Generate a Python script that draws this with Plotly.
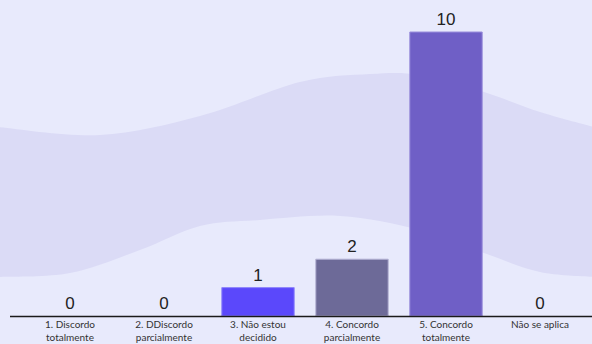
import plotly.graph_objects as go

categories = ["1. Discordo<br>totalmente", "2. DDiscordo<br>parcialmente", "3. Não estou<br>decidido",
              "4. Concordo<br>parcialmente", "5. Concordo<br>totalmente", "Não se aplica"]
values = [0, 0, 1, 2, 10, 0]
bar_colors = ["#5b48fb", "#5b48fb", "#5b48fb", "#6d6a98", "#6f5fc6", "#6f5fc6"]
bar_lines = ["#8f86fb", "#8f86fb", "#8f86fb", "#b4b2d4", "#9a8fdc", "#9a8fdc"]

W, H = 592, 344
ML, MR, MT, MB = 23, 5, 0, 28
PW, PH = W - ML - MR, H - MT - MB

def px(x):
    return (x - ML) / PW

def py(y):
    return (H - MB - y) / PH

def catmull(points):
    segs = []
    n = len(points)
    for i in range(n - 1):
        p0 = points[i - 1] if i > 0 else points[i]
        p1 = points[i]
        p2 = points[i + 1]
        p3 = points[i + 2] if i + 2 < n else points[i + 1]
        c1 = (p1[0] + (p2[0] - p0[0]) / 6, p1[1] + (p2[1] - p0[1]) / 6)
        c2 = (p2[0] - (p3[0] - p1[0]) / 6, p2[1] - (p3[1] - p1[1]) / 6)
        segs.append("C %.4f,%.4f %.4f,%.4f %.4f,%.4f" % (px(c1[0]), py(c1[1]), px(c2[0]), py(c2[1]), px(p2[0]), py(p2[1])))
    return " ".join(segs)

top = [(-2, 127), (100, 135), (200, 116), (300, 82), (370, 74), (420, 75), (484, 92), (540, 112), (594, 127)]
bot = [(594, 277), (540, 272), (484, 253), (420, 230), (340, 216), (260, 220), (200, 226), (140, 250), (70, 273), (-2, 277)]

path = "M %.4f,%.4f " % (px(top[0][0]), py(top[0][1])) + catmull(top)
path += " L %.4f,%.4f " % (px(bot[0][0]), py(bot[0][1])) + catmull(bot) + " Z"

fig = go.Figure()
fig.add_trace(go.Bar(
    x=categories, y=values,
    marker=dict(color=bar_colors,
                line=dict(color=bar_lines, width=[1 if v > 0 else 0 for v in values])),
    text=[str(v) for v in values], textposition="outside",
    textfont=dict(family="Liberation Sans, Arial", size=17, color="#222222"),
    cliponaxis=False, width=0.77,
))

fig.update_layout(
    width=W, height=H,
    margin=dict(l=ML, r=MR, t=MT, b=MB, pad=0),
    paper_bgcolor="#e8eafc", plot_bgcolor="rgba(0,0,0,0)",
    showlegend=False,
    xaxis=dict(showgrid=False, zeroline=False, showline=False, ticks="",
               ticklabelstandoff=1,
               tickfont=dict(family="Lato, Noto Sans", size=10, color="#333333")),
    yaxis=dict(range=[0, PH / 28.4], visible=False, showgrid=False, zeroline=False),
    shapes=[
        dict(type="path", xref="paper", yref="paper", path=path,
             fillcolor="#dbdbf6", line=dict(width=0), layer="below"),
        dict(type="line", xref="paper", yref="paper", x0=px(10), x1=px(592), y0=py(316.5), y1=py(316.5),
             line=dict(color="#1a1a1a", width=1.5)),
    ],
)

fig.write_html("out.html")
